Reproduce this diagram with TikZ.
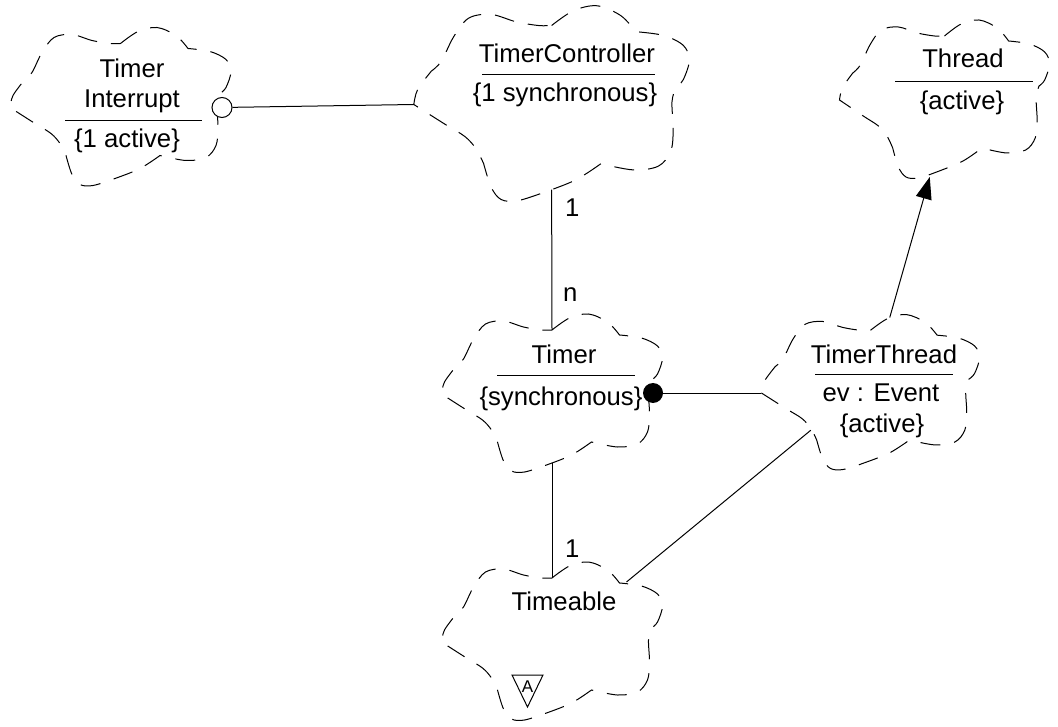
\documentclass[tikz,border=0pt]{standalone}
\usepackage{fontspec}
\setmainfont{Liberation Sans}
\usetikzlibrary{arrows.meta}
\newcommand{\fsz}{\fontsize{25.7pt}{30pt}\selectfont}
\begin{document}
\begin{tikzpicture}[x=1pt,y=-1pt,
  cloudline/.style={line width=1pt, dash pattern=on 20pt off 14pt},
  lbl/.style={font=\fsz, inner sep=0pt, anchor=base},
  mult/.style={font=\fsz, inner sep=0pt, anchor=base west},
  conn/.style={line width=1pt},
  sepline/.style={line width=1pt},
  boochcloud/.pic={
    \draw[cloudline] (0.5,-64)
      -- plot[smooth,tension=0.55] coordinates {(0.5,-64) (18,-76) (37,-80) (56,-72) (68,-59)}
      -- plot[smooth,tension=0.55] coordinates {(68,-59) (90,-56) (106,-48) (111,-36) (106,-20) (100,-14)}
      -- plot[smooth,tension=0.55] coordinates {(100,-14) (97,-2) (98,20) (96,38) (86,50) (66,53) (40,48)}
      -- plot[smooth,tension=0.55] coordinates {(40,48) (20,61) (-5,71) (-27,78) (-40,77) (-48,67) (-54,48)}
      -- plot[smooth,tension=0.55] coordinates {(-54,48) (-60,36) (-69,26) (-85,16) (-110,0)}
      -- plot[smooth,tension=0.55] coordinates {(-110,0) (-107,-12) (-96,-27)}
      -- plot[smooth,tension=0.55] coordinates {(-96,-27) (-88,-35) (-78,-55) (-66,-70) (-48,-73) (-28,-67) (-10,-64) (0.5,-64)};
    \coordinate (-T) at (0.5,-64);
    \coordinate (-B) at (0.5,69);
    \coordinate (-L) at (-110,0);
    \coordinate (-LB) at (-60,38);
    \coordinate (-TR) at (75,-60);
    \coordinate (-TA) at (20,-77);
    \coordinate (-BA) at (-15,77);
  }]
\useasboundingbox (0,0) rectangle (1058,727);

% clouds
\pic (ti) at (120,107.5) {boochcloud};
\pic[xscale=1.247, yscale=1.234] (tc) at (551,104.5) {boochcloud};
\pic[xscale=0.95] (th) at (944,100) {boochcloud};
\pic (tm) at (551.5,394) {boochcloud};
\pic[xscale=0.987, yscale=0.98] (tt) at (870,393) {boochcloud};
\pic (ta) at (551.5,642) {boochcloud};

% texts
\node[lbl] (tiname1) at (132,78) {Timer};
\node[lbl] (tiname2) at (132,108) {Interrupt};
\draw[sepline] (65,121) -- (202,121);
\node[lbl] (tiattr) at (127,148) {\{1 active\}};

\node[lbl] (tcname) at (567,63) {TimerController};
\draw[sepline] (482,75) -- (655,75);
\node[lbl] (tcattr) at (565,102) {\{1 synchronous\}};

\node[lbl] (thname) at (963,68) {Thread};
\draw[sepline] (895,82) -- (1033,82);
\node[lbl] (thattr) at (962,110) {\{active\}};

\node[lbl] (tmname) at (564,363) {Timer};
\draw[sepline] (497,376) -- (635,376);
\node[lbl] (tmattr) at (561,405) {\{synchronous\}};

\node[lbl] (ttname) at (884,363) {TimerThread};
\draw[sepline] (815,375) -- (953,375);
\node[lbl] (ttattr1) at (881,402) {ev : Event};
\node[lbl] (ttattr2) at (882,432) {\{active\}};

\node[lbl] (taname) at (564,610) {Timeable};
\draw[line width=1pt] (512,675) -- (543,675) -- (527.5,707) -- cycle;
\node[font=\fontsize{17pt}{20pt}\selectfont, inner sep=0pt] (abst) at (527.5,687) {A};

% multiplicities
\node[mult] (m1) at (565,217) {1};
\node[mult] (m2) at (563,302) {n};
\node[mult] (m3) at (565,557) {1};

% adornments
\node[circle, draw, line width=1pt, fill=white, minimum size=20pt, inner sep=0pt] (oc) at (222,107.5) {};
\node[circle, fill=black, minimum size=20pt, inner sep=0pt] (fc) at (653,393) {};

% connectors
\draw[conn] (oc) -- (tc-L);
\draw[conn] (tc-B) -- (tm-T);
\draw[conn] (tm-B) -- (ta-T);
\draw[conn] (fc) -- (tt-L);
\draw[conn] (tt-LB) -- (ta-TR);
\draw[conn, -{Triangle[length=22pt,width=16pt]}] (tt-TA) -- (th-BA);
\end{tikzpicture}
\end{document}
